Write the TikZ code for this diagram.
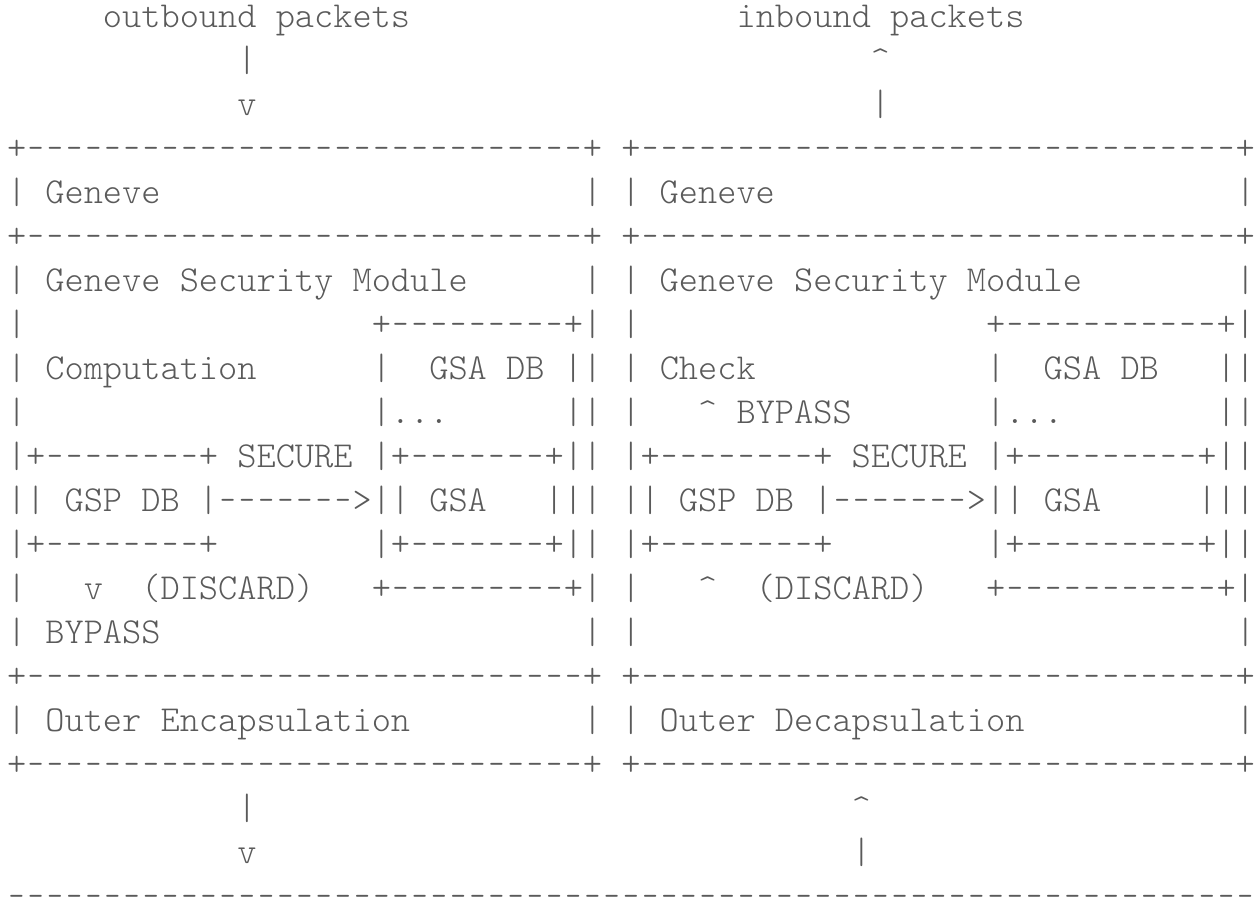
\documentclass[tikz,border=0pt]{standalone}
\usepackage{tikz}
\usetikzlibrary{positioning}

\definecolor{asciigray}{HTML}{5A5A5A}
\newcommand{\asciifont}{\ttfamily\fontseries{l}\fontsize{36.57}{44}\selectfont}
\ExplSyntaxOn
\NewDocumentCommand{\rpt}{mm}{\prg_replicate:nn{#1}{#2}}
\ExplSyntaxOff
\newcommand{\up}{\textasciicircum}
% a slightly shorter dash, so that runs of dashes keep their gaps
\newcommand{\dsh}{\makebox[0.525em]{\scalebox{0.82}[1]{-}}}

\tikzset{
  asciirow/.style={anchor=base west,inner sep=0pt,outer sep=0pt,
    text=asciigray,font=\asciifont},
}

\begin{document}
\begin{tikzpicture}[x=1pt,y=-1pt]
  \useasboundingbox[fill=white] (0,0) rectangle (1258,900);
  % one row of the figure per node, 44px apart
  \foreach \r/\t in {
    0/{\rpt{5}{~}outbound~packets\rpt{17}{~}inbound~packets},
    1/{\rpt{12}{~}|\rpt{32}{~}\up},
    2/{\rpt{12}{~}v\rpt{32}{~}|},
    3/{+\rpt{29}{\dsh}+~+\rpt{31}{\dsh}+},
    4/{|~Geneve\rpt{22}{~}|~|~Geneve\rpt{24}{~}|},
    5/{+\rpt{29}{\dsh}+~+\rpt{31}{\dsh}+},
    6/{|~Geneve~Security~Module\rpt{6}{~}|~|~Geneve~Security~Module\rpt{8}{~}|},
    7/{|\rpt{18}{~}+\rpt{9}{\dsh}+|~|\rpt{18}{~}+\rpt{11}{\dsh}+|},
    8/{|~Computation\rpt{6}{~}|~~GSA~DB~||~|~Check\rpt{12}{~}|~~GSA~DB\rpt{3}{~}||},
    9/{|\rpt{18}{~}|...\rpt{6}{~}||~|\rpt{3}{~}\up~BYPASS\rpt{7}{~}|...\rpt{8}{~}||},
    10/{|+\rpt{8}{\dsh}+~SECURE~|+\rpt{7}{\dsh}+||~|+\rpt{8}{\dsh}+~SECURE~|+\rpt{9}{\dsh}+||},
    11/{||~GSP~DB~|\rpt{7}{\dsh}>||~GSA\rpt{3}{~}|||~||~GSP~DB~|\rpt{7}{\dsh}>||~GSA\rpt{5}{~}|||},
    12/{|+\rpt{8}{\dsh}+\rpt{8}{~}|+\rpt{7}{\dsh}+||~|+\rpt{8}{\dsh}+\rpt{8}{~}|+\rpt{9}{\dsh}+||},
    13/{|\rpt{3}{~}v~~(DISCARD)\rpt{3}{~}+\rpt{9}{\dsh}+|~|\rpt{3}{~}\up~~(DISCARD)\rpt{3}{~}+\rpt{11}{\dsh}+|},
    14/{|~BYPASS\rpt{22}{~}|~|\rpt{31}{~}|},
    15/{+\rpt{29}{\dsh}+~+\rpt{31}{\dsh}+},
    16/{|~Outer~Encapsulation\rpt{9}{~}|~|~Outer~Decapsulation\rpt{11}{~}|},
    17/{+\rpt{29}{\dsh}+~+\rpt{31}{\dsh}+},
    18/{\rpt{12}{~}|\rpt{31}{~}\up},
    19/{\rpt{12}{~}v\rpt{31}{~}|},
    20/{\rpt{65}{\dsh}}}{
    \node[asciirow] (row\r) at (7,{27+44*\r}) {\t};
  }
\end{tikzpicture}
\end{document}
